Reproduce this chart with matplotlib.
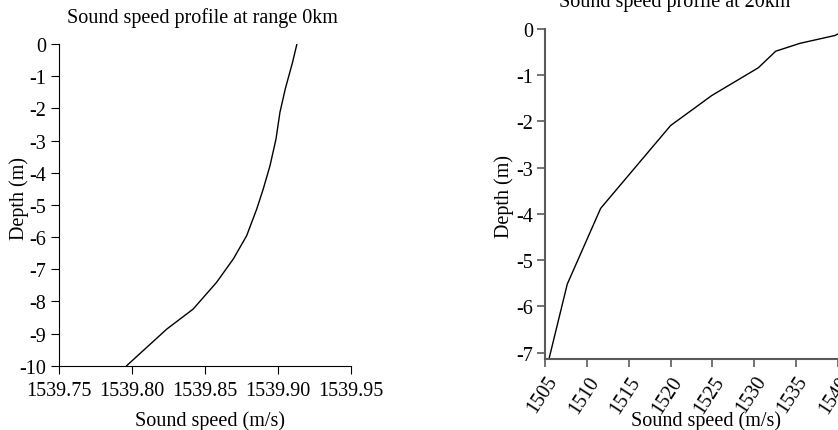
import matplotlib
matplotlib.use("Agg")
import matplotlib.pyplot as plt
from matplotlib.ticker import FormatStrFormatter

plt.rcParams['font.family'] = ['Liberation Serif', 'DejaVu Serif']
plt.rcParams['axes.unicode_minus'] = False

# Data: left panel (range 0 km)
depth0 = [0, -0.57, -1.4, -2.12, -2.95, -3.78, -4.5, -5.13, -5.96, -6.68, -7.41, -8.24, -8.86, -10]
speed0 = [1539.913, 1539.910, 1539.905, 1539.9014, 1539.8987, 1539.8946, 1539.890,
          1539.8855, 1539.8786, 1539.8695, 1539.858, 1539.842, 1539.824, 1539.7965]

# Data: right panel (20 km)
depth20 = [-7.11, -5.52, -3.88, -2.09, -1.44, -0.84, -0.48, -0.31, -0.14, 0.0]
speed20 = [1505.48, 1507.63, 1511.63, 1520.0, 1524.93, 1530.5, 1532.6, 1535.5, 1539.7, 1541.2]

xticks0 = [1539.75, 1539.80, 1539.85, 1539.90, 1539.95]
yticks0 = list(range(0, -11, -1))
xticks20 = [1505, 1510, 1515, 1520, 1525, 1530, 1535, 1540, 1545]
yticks20 = list(range(0, -8, -1))

W, H = 838, 431
fig = plt.figure(figsize=(W / 100, H / 100), dpi=100)
FS = 14.5

def fx(px):
    return px / W

def fy(py):
    return 1 - py / H

# Left axes
ax1 = fig.add_axes([fx(58.7), fy(366.7), fx(351 - 58.7), (366.7 - 45) / H])
ax1.plot(speed0, depth0, color='black', lw=1.0)
ax1.set_xlim(1539.75, 1539.95)
ax1.set_ylim(-10, 0)
ax1.set_xticks(xticks0)
ax1.set_yticks(yticks0)
ax1.xaxis.set_major_formatter(FormatStrFormatter('%.2f'))
for s in ['top', 'right']:
    ax1.spines[s].set_visible(False)
for s in ['left', 'bottom']:
    ax1.spines[s].set_linewidth(0.8)
    ax1.spines[s].set_color('black')
ax1.tick_params(direction='out', length=6, width=0.8, labelsize=FS, pad=3, colors='black')
ax1.tick_params(axis='x', pad=5)
ax1.patch.set_visible(False)

# Right axes (extends beyond the figure edge, as in the reference)
ax2 = fig.add_axes([fx(545.3), fy(360), fx(40 * 8.35), (360 - 30) / H])
ax2.plot(speed20, depth20, color='black', lw=1.0)
ax2.set_xlim(1505, 1545)
ax2.set_ylim(-7.14, 0)
ax2.set_xticks(xticks20)
ax2.set_yticks(yticks20)
for s in ['top', 'right']:
    ax2.spines[s].set_visible(False)
for s in ['left', 'bottom']:
    ax2.spines[s].set_linewidth(1.5)
    ax2.spines[s].set_color('#5a5a5a')
ax2.tick_params(direction='out', length=5.5, width=1.2, color='#5a5a5a', labelcolor='black',
                labelsize=FS, pad=3)
ax2.tick_params(axis='x', pad=4)
for lab in ax2.get_xticklabels():
    lab.set_rotation(57)
    lab.set_ha('right')
    lab.set_va('top')
    lab.set_rotation_mode('anchor')
ax2.patch.set_visible(False)

# Titles and labels
fig.text(fx(202), fy(22.5), 'Sound speed profile at range 0km', ha='center', va='baseline', fontsize=FS)
fig.text(fx(674.5), fy(6.5), 'Sound speed profile at 20km', ha='center', va='baseline', fontsize=FS)
fig.text(fx(210), fy(426), 'Sound speed (m/s)', ha='center', va='baseline', fontsize=FS)
fig.text(fx(706), fy(426.5), 'Sound speed (m/s)', ha='center', va='baseline', fontsize=FS)
fig.text(fx(19), fy(198.5), 'Depth (m)', ha='center', va='center', rotation=90, fontsize=FS)
fig.text(fx(504), fy(196), 'Depth (m)', ha='center', va='center', rotation=90, fontsize=FS)

fig.savefig('out.png', dpi=100)
